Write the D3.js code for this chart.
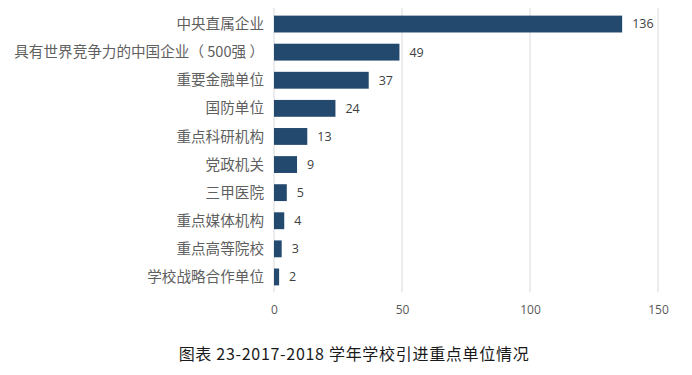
<!DOCTYPE html>
<html><head><meta charset="utf-8">
<script src="https://cdn.jsdelivr.net/npm/d3@7"></script>
<style>body{margin:0;background:#fff;}svg{display:block;}</style>
</head><body>
<svg id="c" width="692" height="375"></svg>
<script>
const categories = ["中央直属企业","具有世界竞争力的中国企业（ 500强 ）","重要金融单位","国防单位","重点科研机构","党政机关","三甲医院","重点媒体机构","重点高等院校","学校战略合作单位"];
const values = [136,49,37,24,13,9,5,4,3,2];
const ticks = [0,50,100,150];
const caption = "图表 23-2017-2018 学年学校引进重点单位情况";

const svg = d3.select("#c");
const x = d3.scaleLinear().domain([0,150]).range([274,658]);
const y = d3.scaleBand().domain(categories).range([10,291]).paddingInner(0.4).paddingOuter(0.2);
const font = "'Open Sans','Noto Sans CJK SC',sans-serif";

// gridlines
svg.append("g").selectAll("line").data(ticks).join("line")
  .attr("x1",d=>x(d)).attr("x2",d=>x(d)).attr("y1",8).attr("y2",292)
  .attr("stroke","#d9d9d9").attr("stroke-width",1);

// axis tick labels
const axis = d3.axisBottom(x).tickValues(ticks).tickSize(0).tickPadding(0);
const ag = svg.append("g").attr("transform","translate(0,305)").call(axis);
ag.select(".domain").remove();
ag.selectAll("text").attr("font-family",font).attr("font-size",12).attr("fill","#595959").attr("dy","0.71em");

// bars
svg.append("g").selectAll("rect").data(values).join("rect")
  .attr("x",x(0)).attr("y",(d,i)=>y(categories[i]))
  .attr("width",d=>x(d)-x(0)).attr("height",y.bandwidth())
  .attr("fill","#24496f");

// value labels
svg.append("g").selectAll("text").data(values).join("text")
  .attr("x",d=>x(d)+10).attr("y",(d,i)=>y(categories[i])+y.bandwidth()/2)
  .attr("dy","0.35em").attr("font-family",font).attr("font-size",12.5).attr("fill","#404040")
  .text(d=>d);

// category labels
svg.append("g").selectAll("text").data(categories).join("text")
  .attr("x",264).attr("y",d=>y(d)+y.bandwidth()/2).attr("dy","0.35em")
  .attr("text-anchor","end").attr("font-family","'Noto Sans CJK SC',sans-serif").attr("font-size",14.6)
  .attr("fill","#5f5f5f").text(d=>d);

// caption
svg.append("text").attr("x",354).attr("y",354).attr("dy","0.35em").attr("text-anchor","middle")
  .attr("font-family","'Noto Sans CJK SC',sans-serif").attr("font-size",16).attr("letter-spacing",0.7).attr("fill","#1a1a1a")
  .text(caption);
</script>
</body></html>
